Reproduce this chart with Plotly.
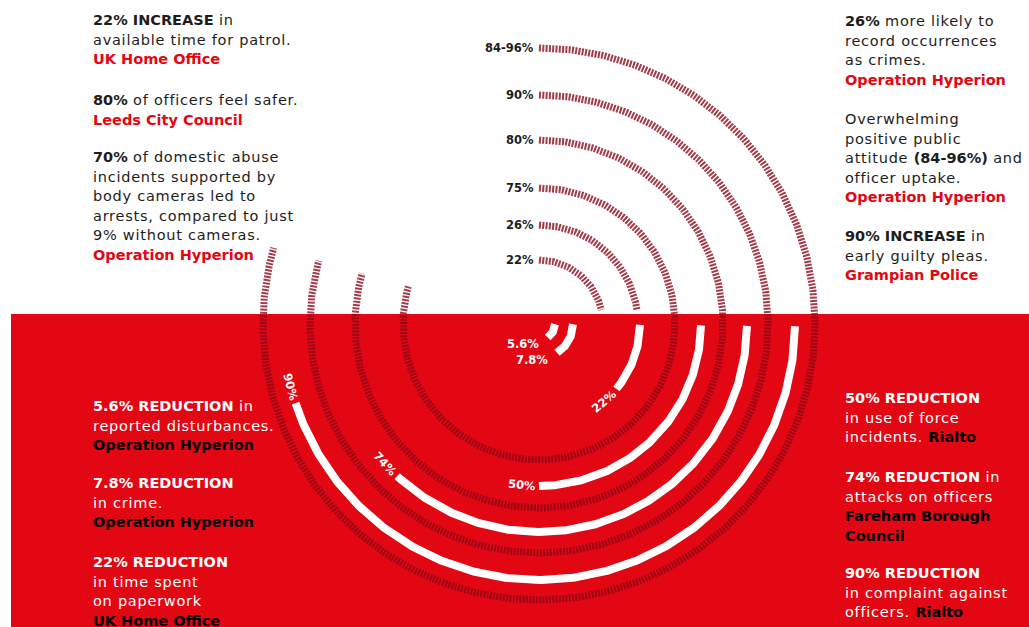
import re
import numpy as np
import plotly.graph_objects as go

# ---------------- data ----------------
# upper (white) quarter tracks: positive effects
top_labels = ["22%", "26%", "75%", "80%", "90%", "84-96%"]
# lower (red) white arcs: reductions
bottom_values = [5.6, 7.8, 22, 50, 74, 90]
bottom_labels = ["5.6%", "7.8%", "22%", "50%", "74%", "90%"]
bottom_sweep_deg = [57, 58, 40, 90, 133, 162]   # arc sweep

left_top_text = [
    ["<b>22% INCREASE</b> in", "available time for patrol.", "<b>@UK Home Office</b>"],
    ["<b>80%</b> of officers feel safer.", "<b>@Leeds City Council</b>"],
    ["<b>70%</b> of domestic abuse", "incidents supported by", "body cameras led to",
     "arrests, compared to just", "9% without cameras.", "<b>@Operation Hyperion</b>"],
]
right_top_text = [
    ["<b>26%</b> more likely to", "record occurrences", "as crimes.", "<b>@Operation Hyperion</b>"],
    ["Overwhelming", "positive public", "attitude <b>(84-96%)</b> and", "officer uptake.",
     "<b>@Operation Hyperion</b>"],
    ["<b>90% INCREASE</b> in", "early guilty pleas.", "<b>@Grampian Police</b>"],
]
left_bottom_text = [
    ["<b>5.6% REDUCTION</b> in", "reported disturbances.", "<b>@Operation Hyperion</b>"],
    ["<b>7.8% REDUCTION</b>", "in crime.", "<b>@Operation Hyperion</b>"],
    ["<b>22% REDUCTION</b>", "in time spent", "on paperwork", "<b>@UK Home Office</b>"],
]
right_bottom_text = [
    ["<b>50% REDUCTION</b>", "in use of force", "incidents. <b>@Rialto</b>"],
    ["<b>74% REDUCTION</b> in", "attacks on officers", "<b>@Fareham Borough</b>", "<b>@Council</b>"],
    ["<b>90% REDUCTION</b>", "in complaint against", "officers. <b>@Rialto</b>"],
]

# ---------------- layout / style ----------------
W, H = 1029, 627
CX, CY = 539, 324
TOP_R = [64, 99, 136, 184, 229, 276]
BOT_R = [16, 34, 101, 162, 208, 256]
RED = "#e30613"
DARK = "#1d1d1b"
TRACK = "rgba(135,5,20,0.78)"
FONT = "DejaVu Sans"
FS = 14.5
STEP = 19.5
REG_STYLE = "letter-spacing:0.75px"

fig = go.Figure()

fig.add_shape(type="rect", x0=11, x1=W + 5, y0=314, y1=H + 5,
              fillcolor=RED, line_width=0, layer="below")


def arc(r, t0, t1, n=500):
    t = np.radians(np.linspace(t0, t1, n))
    return CX + r * np.cos(t), CY + r * np.sin(t)


# hatched tracks
for lab, r in zip(top_labels, TOP_R):
    if r < 120:
        t_end = -np.degrees(np.arcsin((CY - 310) / r))
    else:
        t_end = 196
    x, y = arc(r, -90, t_end)
    fig.add_trace(go.Scatter(x=x, y=y, mode="lines", hoverinfo="skip",
                             line=dict(color=TRACK, width=7, dash="2px,1.3px")))
    fig.add_annotation(x=CX - 3, y=CY - r, text="<b>" + lab + "</b>", showarrow=False,
                       xanchor="right", yanchor="middle",
                       font=dict(family=FONT, size=11.5, color=DARK))

# white value arcs
for lab, v, r, sw in zip(bottom_labels, bottom_values, BOT_R, bottom_sweep_deg):
    x, y = arc(r, 0.5, sw)
    fig.add_trace(go.Scatter(x=x, y=y, mode="lines", hoverinfo="skip",
                             line=dict(color="white", width=8)))
    if r < 50:
        ex, ey = x[-1], y[-1]
        fig.add_annotation(x=ex - 7, y=ey + 7, text="<b>" + lab + "</b>", showarrow=False,
                           xanchor="right", yanchor="middle",
                           font=dict(family=FONT, size=11.5, color="white"))
    else:
        tl = sw + np.degrees(17.0 / r)
        lx = CX + r * np.cos(np.radians(tl))
        ly = CY + r * np.sin(np.radians(tl))
        fig.add_annotation(x=lx, y=ly, text="<b>" + lab + "</b>", showarrow=False,
                           xanchor="center", yanchor="middle", textangle=tl - 90,
                           font=dict(family=FONT, size=11.5, color="white"))


def fmt(line, src):
    parts = re.split(r"(<b>.*?</b>)", line)
    out = []
    for p in parts:
        if not p:
            continue
        if p.startswith("<b>@"):
            out.append("<span style='color:%s'><b>%s</b></span>" % (src, p[4:-4]))
        elif p.startswith("<b>"):
            out.append(p)
        else:
            out.append("<span style='%s'>%s</span>" % (REG_STYLE, p))
    return "".join(out)


def add_block(blocks, x0, starts, base, src):
    for lines, y0 in zip(blocks, starts):
        for i, ln in enumerate(lines):
            fig.add_annotation(x=x0, y=y0 + i * STEP, text=fmt(ln, src), showarrow=False,
                               xanchor="left", yanchor="middle", align="left",
                               font=dict(family=FONT, size=FS, color=base))


add_block(left_top_text, 91, [20, 100, 157], DARK, RED)
add_block(right_top_text, 843, [21, 119, 236], DARK, RED)
add_block(left_bottom_text, 91, [406, 483, 562], "white", "#000000")
add_block(right_bottom_text, 843, [398, 477, 573], "white", "#000000")

fig.update_layout(
    width=W, height=H, margin=dict(l=0, r=0, t=0, b=0),
    paper_bgcolor="white", plot_bgcolor="white", showlegend=False,
    xaxis=dict(range=[0, W], visible=False, fixedrange=True),
    yaxis=dict(range=[H, 0], visible=False, fixedrange=True),
)

fig.write_html("out.html", config={"displayModeBar": False},
               post_script="document.body.style.margin='0';document.body.style.overflow='hidden';")
